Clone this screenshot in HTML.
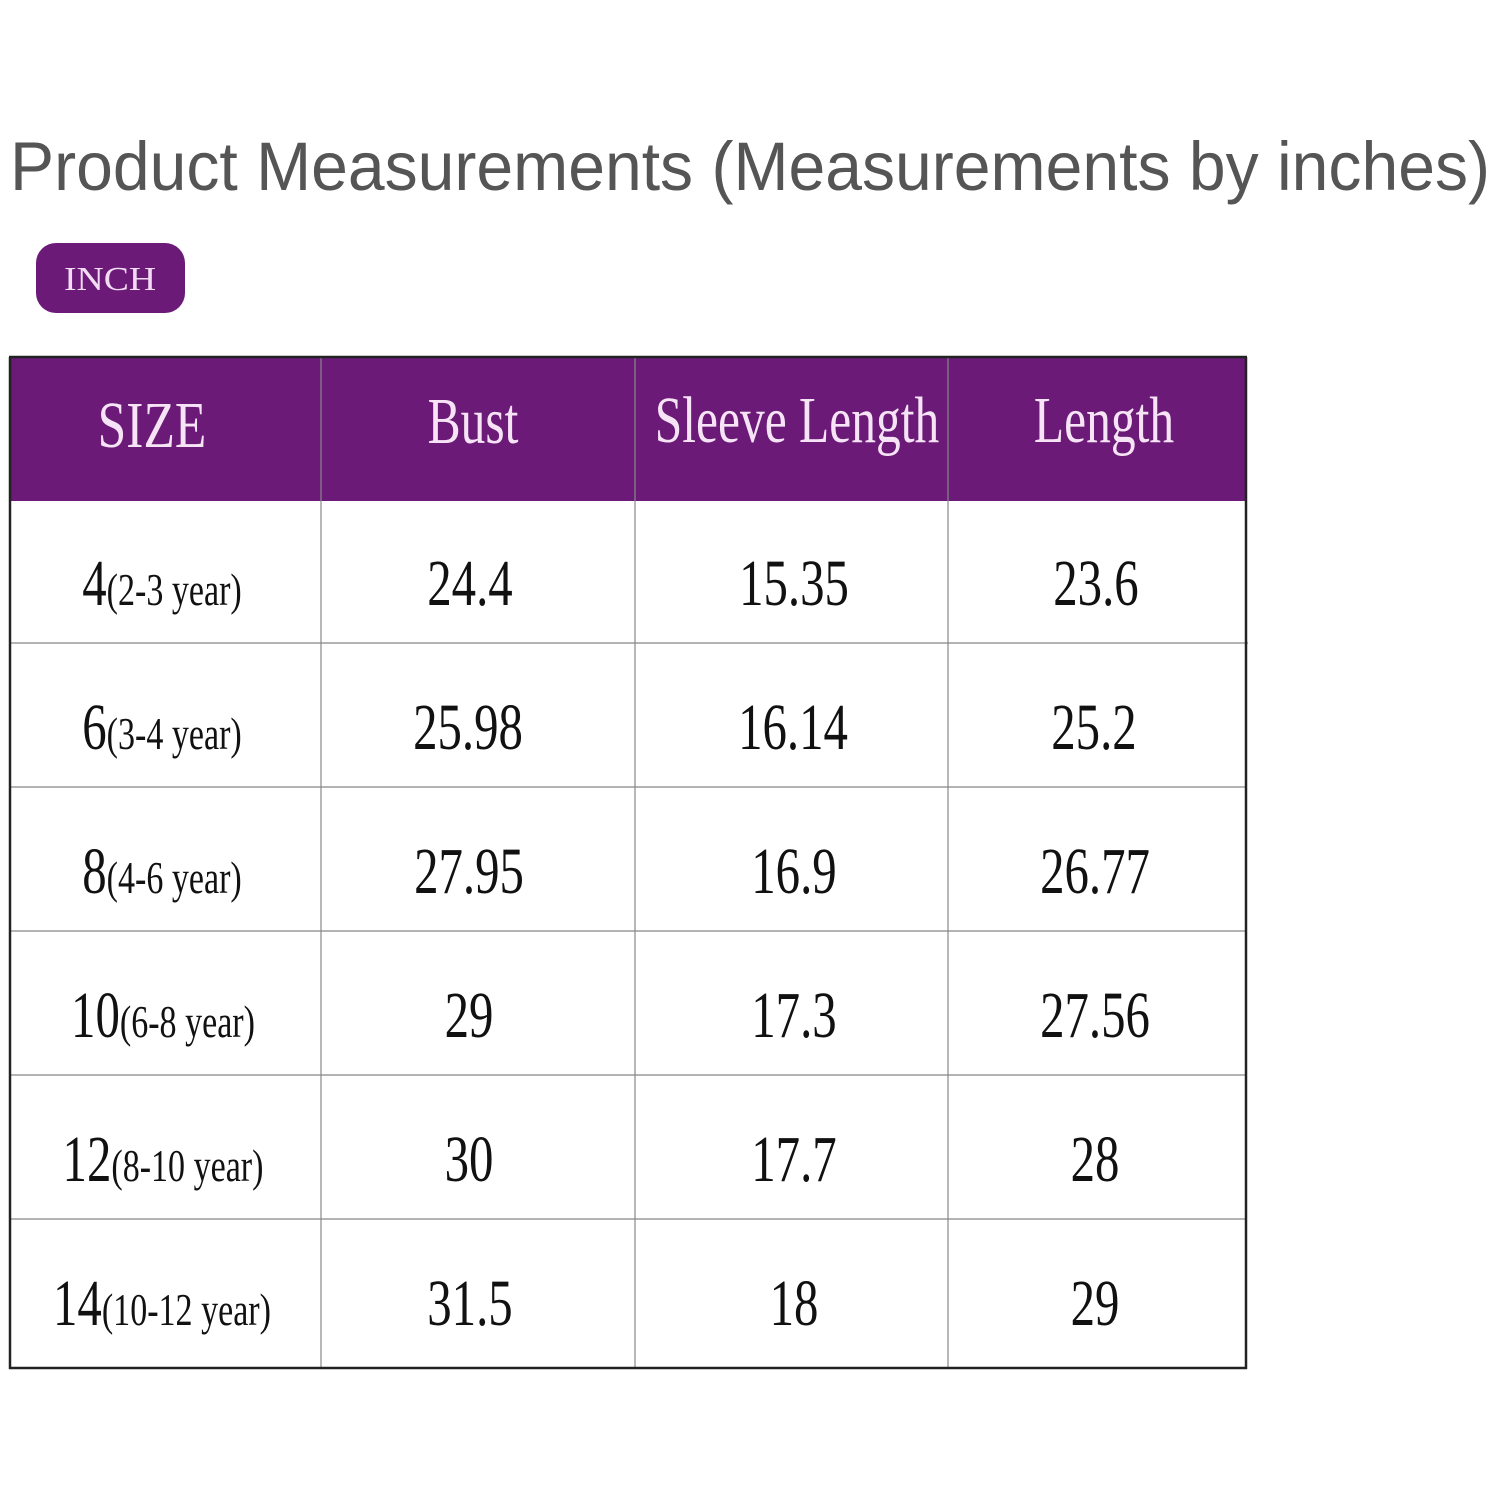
<!DOCTYPE html>
<html><head><meta charset="utf-8"><style>
html,body{margin:0;padding:0;background:#fff;}
svg{display:block;}
.s{font-family:"Liberation Serif",serif;font-size:66px;fill:#111;}
.h{font-family:"Liberation Serif",serif;font-size:66px;fill:#f6e4f6;}
</style></head><body>
<svg width="1500" height="1500" viewBox="0 0 1500 1500" xmlns="http://www.w3.org/2000/svg">
<rect width="1500" height="1500" fill="#fff"/>
<text x="10" y="190" font-family="Liberation Sans,sans-serif" font-size="69" fill="#555" textLength="1480" lengthAdjust="spacingAndGlyphs">Product Measurements (Measurements by inches)</text>
<rect x="36" y="243" width="149" height="70" rx="20" fill="#6b1a78"/>
<text x="64" y="290" font-family="Liberation Serif,serif" font-size="34" fill="#f3dcf3" textLength="92" lengthAdjust="spacingAndGlyphs">INCH</text>
<rect x="9" y="357" width="1237" height="144" fill="#6b1a78"/>
<g stroke="#888" stroke-width="1.2">
<line x1="321" y1="357" x2="321" y2="1368"/>
<line x1="635" y1="357" x2="635" y2="1368"/>
<line x1="948" y1="357" x2="948" y2="1368"/>
<line x1="9" y1="643" x2="1248" y2="643"/>
<line x1="9" y1="787" x2="1246" y2="787"/>
<line x1="9" y1="931" x2="1246" y2="931"/>
<line x1="9" y1="1075" x2="1246" y2="1075"/>
<line x1="9" y1="1219" x2="1246" y2="1219"/>
</g>
<g stroke="#222" stroke-width="2.5" fill="none">
<line x1="9" y1="357" x2="1247" y2="357"/>
<line x1="10" y1="357" x2="10" y2="1369"/>
<line x1="1246" y1="357" x2="1246" y2="1369"/>
<line x1="9" y1="1368" x2="1247" y2="1368"/>
</g>
<g class="h" text-anchor="middle">
<text transform="translate(152,447) scale(0.78,1)">SIZE</text>
<text transform="translate(473,443) scale(0.75,1)">Bust</text>
<text transform="translate(797,442) scale(0.75,1)">Sleeve Length</text>
<text transform="translate(1104,442) scale(0.75,1)">Length</text>
</g>
<g class="s" text-anchor="middle">
<text transform="translate(162,605) scale(0.74,1)">4<tspan font-size="46">(2-3 year)</tspan></text>
<text transform="translate(162,749) scale(0.74,1)">6<tspan font-size="46">(3-4 year)</tspan></text>
<text transform="translate(162,893) scale(0.74,1)">8<tspan font-size="46">(4-6 year)</tspan></text>
<text transform="translate(163,1037) scale(0.74,1)">10<tspan font-size="46">(6-8 year)</tspan></text>
<text transform="translate(163,1181) scale(0.74,1)">12<tspan font-size="46">(8-10 year)</tspan></text>
<text transform="translate(162,1325) scale(0.74,1)">14<tspan font-size="46">(10-12 year)</tspan></text>

<text transform="translate(470,605) scale(0.74,1)">24.4</text>
<text transform="translate(794,605) scale(0.74,1)">15.35</text>
<text transform="translate(1096,605) scale(0.74,1)">23.6</text>

<text transform="translate(468,749) scale(0.74,1)">25.98</text>
<text transform="translate(793,749) scale(0.74,1)">16.14</text>
<text transform="translate(1094,749) scale(0.74,1)">25.2</text>

<text transform="translate(469,893) scale(0.74,1)">27.95</text>
<text transform="translate(794,893) scale(0.74,1)">16.9</text>
<text transform="translate(1095,893) scale(0.74,1)">26.77</text>

<text transform="translate(469,1037) scale(0.74,1)">29</text>
<text transform="translate(794,1037) scale(0.74,1)">17.3</text>
<text transform="translate(1095,1037) scale(0.74,1)">27.56</text>

<text transform="translate(469,1181) scale(0.74,1)">30</text>
<text transform="translate(794,1181) scale(0.74,1)">17.7</text>
<text transform="translate(1095,1181) scale(0.74,1)">28</text>

<text transform="translate(470,1325) scale(0.74,1)">31.5</text>
<text transform="translate(794,1325) scale(0.74,1)">18</text>
<text transform="translate(1095,1325) scale(0.74,1)">29</text>
</g>
</svg>
</body></html>
